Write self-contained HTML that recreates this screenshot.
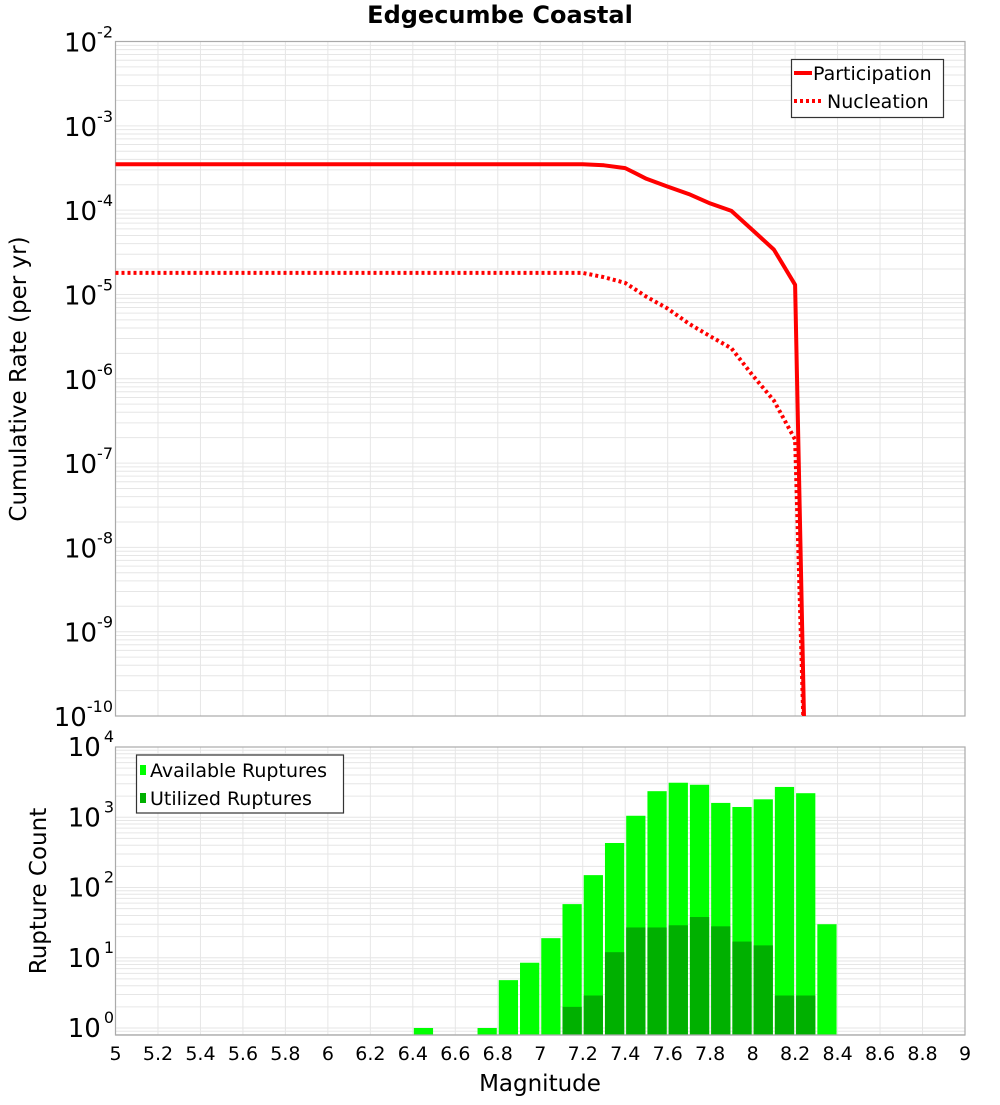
<!DOCTYPE html>
<html><head><meta charset="utf-8"><style>
body{margin:0;background:#fff;}
svg{font-family:"DejaVu Sans","Liberation Sans",sans-serif;}
</style></head><body>
<svg id="c" width="1000" height="1100" xmlns="http://www.w3.org/2000/svg"></svg>
<script>
const mags = [5,5.5,6,6.5,7,7.2,7.3,7.4,7.5,7.6,7.7,7.8,7.9,8.0,8.1,8.2,8.25];
const participation = [3.5e-4,3.5e-4,3.5e-4,3.5e-4,3.5e-4,3.5e-4,3.4e-4,3.15e-4,2.35e-4,1.9e-4,1.55e-4,1.2e-4,9.8e-5,5.8e-5,3.4e-5,1.3e-5,1e-11];
const nucleation = [1.8e-5,1.8e-5,1.8e-5,1.8e-5,1.8e-5,1.8e-5,1.6e-5,1.37e-5,9.4e-6,6.8e-6,4.5e-6,3.2e-6,2.3e-6,1.1e-6,5.5e-7,1.9e-7,1e-11];
const binCenters = [6.45,6.75,6.85,6.95,7.05,7.15,7.25,7.35,7.45,7.55,7.65,7.75,7.85,7.95,8.05,8.15,8.25,8.35];
const available = [1,1,4.8,8.5,19,58,150,430,1050,2350,3100,2900,1600,1400,1800,2700,2200,30];
const utilized = [0,0,0,0,0,2,2.9,12,27,27,29,38,28,17,15,2.9,2.9,0];
const xTicks = [5,5.2,5.4,5.6,5.8,6,6.2,6.4,6.6,6.8,7,7.2,7.4,7.6,7.8,8,8.2,8.4,8.6,8.8,9];
const topExps = [-2,-3,-4,-5,-6,-7,-8,-9,-10];
const botExps = [4,3,2,1,0];

const NS="http://www.w3.org/2000/svg";
const svg=document.getElementById('c');
function el(tag,attrs,parent){const e=document.createElementNS(NS,tag);for(const k in attrs)e.setAttribute(k,attrs[k]);(parent||svg).appendChild(e);return e;}
const L=115.5,R=965;
const X=m=>L+(m-5)/4*(R-L);
const T1=41.5,B1=716;
const Y1=v=>T1+(-2-Math.log10(v))*(B1-T1)/8;
const T2=747,G0=1028,B2=1035,dec2=(G0-T2)/4;
const Y2=v=>G0-Math.log10(v)*dec2;

let t=el('text',{x:500,y:23,'text-anchor':'middle','font-size':24,'font-weight':'bold'});t.textContent='Edgecumbe Coastal';


function grid(top,bot,ymap,lo,hi,name){
  const g=el('g',{});
  for(let e=lo;e<hi;e++)for(let k=1;k<10;k++){const y=ymap(k*Math.pow(10,e));if(y<top-0.5||y>bot+0.5)continue;el('line',{x1:L,x2:R,y1:y,y2:y,stroke:'#e6e6e6','stroke-width':1},g);}
  xTicks.forEach(m=>{const x=X(m);el('line',{x1:x,x2:x,y1:top,y2:bot,stroke:'#e6e6e6','stroke-width':1},g);});
  el('rect',{x:L,y:top,width:R-L,height:bot-top,fill:'none',stroke:'#aaa','stroke-width':1.2},g);
}
grid(T1,B1,Y1,-10,-2,'top-grid');
grid(T2,B2,Y2,-1,4,'bottom-grid');

topExps.forEach(e=>{const y=Y1(Math.pow(10,e));
  const tx=el('text',{x:113,y:y+10,'text-anchor':'end','font-size':26});
  
  tx.appendChild(document.createTextNode('10'));
  const s=el('tspan',{dy:-14,'font-size':16},tx);s.textContent=e;
});
botExps.forEach(e=>{const y=Y2(Math.pow(10,e));
  const tx=el('text',{x:114,y:y+9,'text-anchor':'end','font-size':26});
  
  tx.appendChild(document.createTextNode('10'));
  const s=el('tspan',{dx:3,dy:-14,'font-size':16},tx);s.textContent=e;
});
xTicks.forEach(m=>{const tx=el('text',{x:X(m),y:1060,'text-anchor':'middle','font-size':19});
  
  tx.textContent=String(+m.toFixed(1));});

let a=el('text',{x:540,y:1091,'text-anchor':'middle','font-size':23});a.textContent='Magnitude';

a=el('text',{x:0,y:0,'text-anchor':'middle','font-size':23,transform:'translate(26,379) rotate(-90)'});a.textContent='Cumulative Rate (per yr)';

a=el('text',{x:0,y:0,'text-anchor':'middle','font-size':23,transform:'translate(46,891) rotate(-90)'});a.textContent='Rupture Count';


const clip=el('clipPath',{id:'cp1'});el('rect',{x:L,y:T1,width:R-L,height:B1-T1},clip);
function line(vals,dash,name){const p=mags.map((m,i)=>X(m).toFixed(1)+','+Y1(vals[i]).toFixed(1)).join(' ');
  const pl=el('polyline',{points:p,fill:'none',stroke:'#ff0000','stroke-width':4,'clip-path':'url(#cp1)','stroke-dasharray':dash||'none','stroke-linejoin':'round'});
  }
line(participation,null,'participation-line');
line(nucleation,'3,3','nucleation-line');

const bw=(X(5.1)-X(5))-2;
binCenters.forEach((c,i)=>{const x=X(c)-bw/2;
  if(available[i]>0){const y=Y2(available[i]);const r=el('rect',{x:x,y:y,width:bw,height:B2-y,fill:'#00ff00'});
    }
  if(utilized[i]>0){const y=Y2(utilized[i]);const r=el('rect',{x:x,y:y,width:bw,height:B2-y,fill:'#00b000'});
    }
});
el('line',{x1:L,x2:R,y1:B2,y2:B2,stroke:'#aaa','stroke-width':1.2});

let lg=el('g',{});
el('rect',{x:791.5,y:59.5,width:152,height:58,fill:'#fff',stroke:'#333','stroke-width':1.2},lg);
el('line',{x1:794,x2:812,y1:73,y2:73,stroke:'#f00','stroke-width':4},lg);
el('line',{x1:794,x2:824,y1:101,y2:101,stroke:'#f00','stroke-width':4,'stroke-dasharray':'3,3'},lg);
t=el('text',{x:813,y:80,'font-size':19},lg);t.textContent='Participation';
t=el('text',{x:827,y:108,'font-size':19},lg);t.textContent='Nucleation';
lg=el('g',{});
el('rect',{x:136.5,y:755,width:207,height:58,fill:'#fff',stroke:'#333','stroke-width':1.2},lg);
el('rect',{x:140,y:765,width:6,height:10,fill:'#00ff00'},lg);
el('rect',{x:140,y:793,width:6,height:10,fill:'#00b000'},lg);
t=el('text',{x:150,y:777,'font-size':19},lg);t.textContent='Available Ruptures';
t=el('text',{x:150,y:805,'font-size':19},lg);t.textContent='Utilized Ruptures';
</script>
</body></html>
